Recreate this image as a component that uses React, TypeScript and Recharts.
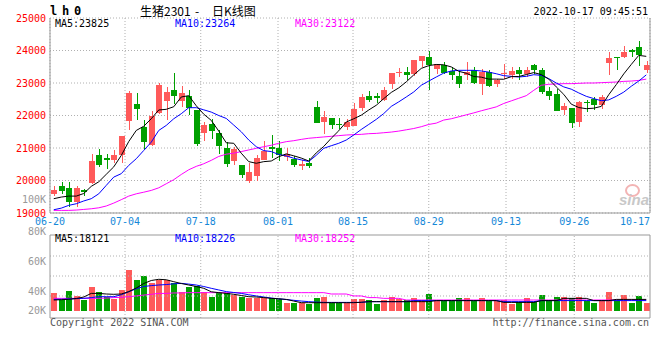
import React from 'react';
import { ComposedChart, Bar, Line, XAxis, YAxis, CartesianGrid, ReferenceLine } from 'recharts';

const DATES = ['06-20','06-21','06-22','06-23','06-24','06-27','06-28','06-29','06-30','07-01','07-04','07-05','07-06','07-07','07-08','07-11','07-12','07-13','07-14','07-15','07-18','07-19','07-20','07-21','07-22','07-25','07-26','07-27','07-28','07-29','08-01','08-02','08-03','08-04','08-05','08-08','08-09','08-10','08-11','08-12','08-15','08-16','08-17','08-18','08-19','08-22','08-23','08-24','08-25','08-26','08-29','08-30','08-31','09-01','09-02','09-05','09-06','09-07','09-08','09-09','09-13','09-14','09-15','09-16','09-19','09-20','09-21','09-22','09-23','09-26','09-27','09-28','09-29','09-30','10-10','10-11','10-12','10-13','10-14','10-17'];

const OPEN = [19570,19820,19755,19345,19720,19920,20770,20690,20640,20780,21830,22340,21645,21080,22075,22460,22800,22460,22595,22155,21460,21745,21470,21010,20585,20480,19990,20125,20635,21040,21010,20715,20655,20450,20550,22255,21810,21910,21725,21635,21675,22245,22600,22590,22470,22980,23330,23340,23265,23665,23815,23420,23560,23370,23205,23255,23390,22980,23335,22980,23265,23235,23410,23265,23560,23410,22745,22655,22165,22235,21805,22420,22500,22315,23610,23795,23795,24030,24100,23390];
const HIGH = [19820,19950,19950,19835,19740,20820,20965,20820,20925,21380,22750,22690,21850,22125,23000,22875,23300,22895,22770,22160,21800,21900,21540,21200,21040,20490,20530,20790,21215,21400,21215,20990,20760,20635,20685,22450,22135,21910,21910,21880,22390,22675,22745,22705,22880,23310,23470,23490,23715,23830,23970,23600,23660,23490,23335,23640,23490,23440,23390,23110,23570,23490,23490,23490,23590,23460,22880,22830,22370,22240,22440,22470,22570,22625,23950,23815,24150,24050,24305,23690];
const LOW = [19520,19570,19200,19200,19530,19880,20410,20350,20535,20540,21540,21850,20945,21050,22060,21850,22340,22260,22030,21050,21230,21285,20820,20430,20480,20070,19920,20000,20630,20705,20615,20585,20410,20310,20380,21770,21420,21600,21570,21550,21670,22135,22420,22390,22460,22810,23185,23080,23215,23490,22780,23285,23285,23080,22860,23080,22980,22620,22880,22880,23130,23130,23080,23185,23285,22670,22470,22140,22010,21625,21655,22110,22165,22215,23255,23410,23765,23795,23510,23305];
const CLOSE = [19715,19665,19335,19755,19650,20615,20465,20630,20800,21360,22690,22185,21180,21970,22925,22720,22615,22690,22240,21110,21695,21520,21050,20510,20970,20175,20275,20705,20910,20970,20790,20805,20480,20510,20460,21775,21960,21705,21705,21790,22215,22570,22470,22540,22775,23305,23350,23235,23695,23825,23540,23590,23305,23235,22980,23335,23000,23335,22910,23100,23305,23370,23265,23390,23390,22715,22600,22145,22290,21775,22420,22390,22315,22570,23765,23775,23950,23950,23870,23540];

const MA5 = [19440,19490,19520,19520,19600,19820,19960,20190,20420,20770,21200,21540,21670,21900,22170,22190,22270,22570,22610,22300,22040,21850,21520,21160,21145,20840,20580,20530,20580,20600,20730,20820,20760,20690,20600,20850,21050,21300,21530,21800,21900,22010,22170,22315,22520,22710,22850,23035,23250,23450,23535,23570,23560,23495,23360,23300,23200,23180,23120,23120,23115,23195,23200,23260,23320,23260,23120,22880,22650,22350,22245,22210,22225,22280,22640,22950,23280,23570,23850,23820];
const MA10 = [19100,19150,19235,19285,19370,19440,19590,19850,20105,20210,20465,20670,20925,21180,21540,21695,21900,22055,22240,22240,22175,22105,22000,21910,21705,21500,21245,21040,20920,20890,20800,20755,20685,20635,20585,20775,20990,21070,21145,21245,21400,21570,21725,21880,22060,22280,22420,22570,22725,22930,23060,23185,23305,23370,23390,23390,23390,23370,23335,23285,23225,23205,23185,23205,23255,23235,23135,23000,22880,22810,22695,22590,22520,22455,22480,22590,22720,22900,23060,23250];
const MA30 = [19080,19080,19080,19090,19110,19130,19160,19215,19305,19410,19520,19590,19640,19695,19775,19900,20025,20185,20330,20435,20515,20620,20740,20810,20840,20890,20940,20990,21040,21085,21145,21195,21225,21265,21300,21320,21340,21360,21380,21400,21410,21420,21440,21450,21470,21490,21520,21560,21600,21655,21725,21765,21860,21900,21960,22020,22080,22145,22205,22265,22370,22450,22530,22610,22775,22930,22960,22970,22980,22980,22990,23000,23000,23010,23020,23030,23050,23060,23080,23120];

const VOL = [38.4,34,40.2,36.7,34,42.9,39.3,36.2,34.4,40.7,54,47.3,50.2,45.6,47.3,47.3,45.6,39.3,42.9,43.3,39.3,36.2,39.3,38.4,37.1,36.2,35.6,35.6,35.1,35.1,34.4,32.2,32.2,31.8,31.3,35.6,36.2,32.2,31.8,31.8,34.7,34.7,34,31.3,34,36.2,34.9,34,35.6,34,38,33.6,33.6,33.6,35.6,35.6,33.6,35.6,33.6,33.6,34,31.3,32.9,35.6,32.9,37.3,34,36.2,36.2,35.1,36.2,33.6,32.2,33.6,39.3,34,37.3,32.2,36.7,32.2];
const VMA5 = [34,34.2,34.5,35,36,38.4,38.4,38,37.8,38,39.6,42,45,47,47.8,47.5,46.2,45,44,43,41.8,39.5,38.9,38.4,37.8,37,36.2,36,35.6,35.1,34.8,34.4,33.3,32.2,32.2,32.2,32.2,32.2,32.2,32.2,32.2,32.5,32.9,32.9,32.9,32.9,32.9,32.9,32.9,32.9,32.9,33.6,33.6,33.6,33.6,33.6,33.6,33.6,33.6,33.6,32.4,32.4,32.4,32.4,32.4,33.6,33.6,33.6,35.1,35.1,35.1,35.1,33.6,33.6,33.6,34.4,34.4,34.4,34.4,34.4];
const VMA10 = [34.4,34.5,34.7,34.9,35.1,35.6,36.2,36.2,36.2,37.5,39.5,41.5,43,43.6,44,44.3,44.8,45.1,44.6,44,43,41.8,40.7,39.6,39,38.4,37.5,36.7,36,35.3,34.8,34.3,33.8,33.3,32.9,32.6,32.4,32.4,32.4,32.4,32.4,32.4,32.9,32.9,32.9,32.9,32.9,32.9,33.6,33.6,33.6,33.6,33.6,33.6,33.6,33.6,33.6,33.6,33.6,33.6,32.9,32.9,32.9,32.9,32.9,33.6,33.6,33.6,33.6,33.6,33.6,33.6,33.6,33.6,33.6,33.6,33.6,33.6,33.6,33.6];
const VMA30 = [35.1,35.1,35.1,35.1,35.1,35.1,35.1,35.3,35.6,35.8,36.2,36.7,37.3,37.8,38.4,38.4,38.7,38.7,38.9,38.9,38.9,38.9,38.9,38.9,38.9,38.9,38.9,38.9,38.9,38.9,38.9,38.9,38.9,38.9,38.9,38.9,38.9,38,38,38,36.7,36.7,35.6,35.6,35.1,35.1,35.1,34,34,34,34,34,34,34,34,34,34,34,34,34,34,34,34,34,34,34,34,34,34,34,34,34,34,34,34,34,34,34,34,34];

const PRICE_TICKS = [19000, 20000, 21000, 22000, 23000, 24000, 25000];
const VOL_TICKS = [20, 40, 60, 80];
const VOL_LABELS = ['20K', '40K', '60K', '80K'];
const TICK_LABELS = ['06-20','07-04','07-18','08-01','08-15','08-29','09-13','09-26','10-17'];
const TICK_POS = [0, 10, 20.1, 30.4, 40.4, 50.5, 60.8, 69.9, 80];
const VOL_BASE = 26.67;
const VOL_TOP = 77.33;
const VOL_BOTTOM = 22;
const VOL_GRID = [63.33, 50, 36.67];
const VOL_LABEL_FLOOR = 26.67;

const RED = '#ff5a5a';
const GREEN = '#00a000';
const AXIS = '#999999';
const GRID = '#b0b0b0';
const MONO = '"DejaVu Sans Mono", monospace';

const priceRows = DATES.map((date, i) => ({
  date, n: i, o: OPEN[i], h: HIGH[i], l: LOW[i], c: CLOSE[i],
  range: [LOW[i], HIGH[i]], ma5: MA5[i], ma10: MA10[i], ma30: MA30[i],
}));
const volRows = DATES.map((date, i) => ({
  date, n: i, up: CLOSE[i] >= OPEN[i], vr: [VOL_BASE, VOL[i]],
  v5: VMA5[i], v10: VMA10[i], v30: VMA30[i],
}));

const renderCandle = (props: any) => {
  const { x, y, width, height, payload } = props;
  if (x == null || payload == null) return <g />;
  const top = Math.min(y, y + height);
  const span = Math.abs(height);
  const { o, c, h, l } = payload;
  const k = h > l ? span / (h - l) : 0;
  const yv = (v: number) => top + (h - v) * k;
  const col = c >= o ? RED : GREEN;
  const bx = Math.round(x);
  const bw = Math.round(width);
  const bodyTop = yv(Math.max(o, c));
  const bodyH = Math.max(1, yv(Math.min(o, c)) - bodyTop);
  return (
    <g shapeRendering="crispEdges">
      <rect x={bx + Math.floor(bw / 2)} y={top} width={1} height={Math.max(span, 1)} fill={col} />
      <rect x={bx} y={bodyTop} width={bw} height={bodyH} fill={col} />
    </g>
  );
};

const renderVol = (props: any) => {
  const { x, y, width, height, payload } = props;
  if (x == null || payload == null) return <g />;
  const top = Math.min(y, y + height);
  return (
    <rect x={Math.round(x)} y={top} width={Math.round(width)} height={Math.abs(height)}
      fill={payload.up ? RED : GREEN} shapeRendering="crispEdges" />
  );
};

const PriceTick = (props: any) => {
  const { y, payload } = props;
  return (
    <text x={46} y={y} dy={3.5} textAnchor="end" fill="#ff0000" fontSize={10} fontFamily={MONO}>
      {payload.value}
    </text>
  );
};

// volume axis: the lowest label sits on the bar base line as in the reference
const VolTick = (props: any) => {
  const { y, payload } = props;
  const idx = VOL_TICKS.indexOf(payload.value);
  const yy = Number(y);
  // bar base is 1.5px per unit above the 20 tick
  const floorY = yy - (VOL_LABEL_FLOOR - VOL_TICKS[0]) * 1.5;
  const ty = idx === 0 ? floorY : yy;
  return (
    <text x={46} y={ty} dy={3.5} textAnchor="end" fill={AXIS} fontSize={10} fontFamily={MONO}>
      {VOL_LABELS[idx]}
    </text>
  );
};

const DateTick = (props: any) => {
  const { x, payload } = props;
  const idx = TICK_POS.indexOf(payload.value);
  const last = idx === TICK_POS.length - 1;
  return (
    <text x={x} y={225} textAnchor={last ? 'end' : 'middle'} fill="#1588d8" fontSize={10} fontFamily={MONO}>
      {TICK_LABELS[idx]}
    </text>
  );
};

const txt = (extra: any): any => ({
  position: 'absolute', fontFamily: MONO, fontSize: 10, lineHeight: '12px', whiteSpace: 'nowrap', ...extra,
});
const cjk = (extra: any): any => ({
  position: 'absolute', fontFamily: '"Noto Sans CJK SC", sans-serif', fontSize: 12, lineHeight: '14px',
  whiteSpace: 'nowrap', color: '#000', top: 4, ...extra,
});

export default function App() {
  return (
    <div style={{ position: 'absolute', left: 0, top: 0, width: 660, height: 360, background: '#fff', overflow: 'hidden' }}>
      <div style={{ position: 'absolute', left: 0, top: 0 }}>
        <ComposedChart width={660} height={233} data={priceRows} margin={{ top: 18, right: 10, bottom: 0, left: 0 }}>
          <CartesianGrid stroke={GRID} strokeDasharray="1 2" />
          <XAxis xAxisId={0} type="number" dataKey="n" domain={[0, 80]} ticks={TICK_POS} interval={0}
            allowDataOverflow tick={<DateTick />} tickLine={false} tickSize={0} tickMargin={0}
            axisLine={{ stroke: AXIS }} height={20} />
          <XAxis xAxisId="c" type="category" dataKey="date" hide />
          <YAxis type="number" domain={[19000, 25000]} ticks={PRICE_TICKS} interval={0} allowDataOverflow
            width={50} tick={<PriceTick />} tickLine={false} tickSize={0} tickMargin={0} axisLine={{ stroke: AXIS }} />
          <ReferenceLine x={80} stroke={AXIS} />
          <Bar xAxisId="c" dataKey="range" barSize={6} shape={renderCandle} isAnimationActive={false} />
          <Line xAxisId="c" type="linear" dataKey="ma30" stroke="#ff00ff" strokeWidth={1} dot={false} isAnimationActive={false} />
          <Line xAxisId="c" type="linear" dataKey="ma10" stroke="#0000ff" strokeWidth={1} dot={false} isAnimationActive={false} />
          <Line xAxisId="c" type="linear" dataKey="ma5" stroke="#000000" strokeWidth={1} dot={false} isAnimationActive={false} />
        </ComposedChart>
      </div>

      <div style={{ position: 'absolute', left: 0, top: 221 }}>
        <ComposedChart width={660} height={110} data={volRows} margin={{ top: 10, right: 10, bottom: 10, left: 0 }}>
          <XAxis xAxisId={0} type="number" dataKey="n" domain={[0, 80]} allowDataOverflow hide />
          <XAxis xAxisId="c" type="category" dataKey="date" hide />
          <YAxis type="number" domain={[20, 80]} ticks={VOL_TICKS} interval={0} allowDataOverflow width={50}
            tick={<VolTick />} tickLine={false} tickSize={0} tickMargin={0} axisLine={false} />
          {VOL_GRID.map((g) => (
            <ReferenceLine key={'h' + g} y={g} stroke={GRID} strokeDasharray="1 2" />
          ))}
          {TICK_POS.slice(1, -1).map((t) => (
            <ReferenceLine key={'v' + t} segment={[{ x: t, y: VOL_BOTTOM }, { x: t, y: VOL_TOP }]} stroke={GRID} strokeDasharray="1 2" />
          ))}
          <Bar xAxisId="c" dataKey="vr" barSize={6} shape={renderVol} isAnimationActive={false} />
          <Line xAxisId="c" type="linear" dataKey="v30" stroke="#ff00ff" strokeWidth={1} dot={false} isAnimationActive={false} />
          <Line xAxisId="c" type="linear" dataKey="v10" stroke="#0000ff" strokeWidth={1} dot={false} isAnimationActive={false} />
          <Line xAxisId="c" type="linear" dataKey="v5" stroke="#000000" strokeWidth={1} dot={false} isAnimationActive={false} />
          <ReferenceLine y={VOL_TOP} stroke={AXIS} />
          <ReferenceLine y={VOL_BOTTOM} stroke={AXIS} />
          <ReferenceLine segment={[{ x: 0, y: VOL_BOTTOM }, { x: 0, y: VOL_TOP }]} stroke={AXIS} />
          <ReferenceLine segment={[{ x: 80, y: VOL_BOTTOM }, { x: 80, y: VOL_TOP }]} stroke={AXIS} />
        </ComposedChart>
      </div>

      <div style={txt({ left: 50, top: 4, fontSize: 12, lineHeight: '14px', fontWeight: 'bold', letterSpacing: '-1.2px', color: '#000' })}>l h 0</div>
      <div style={cjk({ left: 140 })}>生猪2301</div>
      <div style={cjk({ left: 195 })}>-</div>
      <div style={cjk({ left: 212 })}>日K线图</div>
      <div style={txt({ right: 12, top: 6, color: '#000' })}>2022-10-17 09:45:51</div>

      <div style={txt({ left: 55, top: 18, color: '#000' })}>MA5:23825</div>
      <div style={txt({ left: 175, top: 18, color: '#0000ff' })}>MA10:23264</div>
      <div style={txt({ left: 295, top: 18, color: '#ff00ff' })}>MA30:23122</div>

      <div style={txt({ right: 614, top: 194, color: AXIS })}>100K</div>

      <div style={{ position: 'absolute', left: 625, top: 184, width: 11, height: 9, borderRadius: '50%', border: '2px solid #f3b4b4' }} />
      <div style={{ position: 'absolute', left: 619, top: 192, fontFamily: '"Liberation Sans", sans-serif', fontSize: 15, fontStyle: 'italic', fontWeight: 'bold', lineHeight: '16px', color: '#c8c8c8' }}>sina</div>

      <div style={txt({ left: 55, top: 233, color: '#000' })}>MA5:18121</div>
      <div style={txt({ left: 175, top: 233, color: '#0000ff' })}>MA10:18226</div>
      <div style={txt({ left: 295, top: 233, color: '#ff00ff' })}>MA30:18252</div>

      <div style={txt({ left: 50, top: 317, color: '#555' })}>Copyright 2022 SINA.COM</div>
      <div style={txt({ right: 11, top: 317, color: '#555' })}>http://finance.sina.com.cn</div>
    </div>
  );
}
